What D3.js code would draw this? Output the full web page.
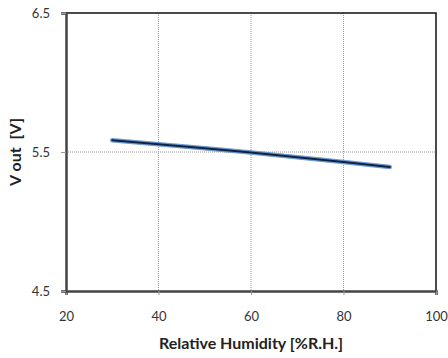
<!DOCTYPE html>
<html>
<head>
<meta charset="utf-8">
<script src="https://cdn.jsdelivr.net/npm/d3@7"></script>
<style>
  body { margin: 0; background: #fff; }
  text { font-family: Lato, "DejaVu Sans", sans-serif; }
</style>
</head>
<body>
<div id="chart"></div>
<script>
// data
var humidity = [30, 40, 50, 60, 70, 80, 90]
var vout = [5.585, 5.556, 5.527, 5.497, 5.463, 5.428, 5.392]
var xTicks = [20, 40, 60, 80, 100]
var yTicks = [4.5, 5.5, 6.5]

var W = 448, H = 358
var pl = 66, pr = 436, pt = 13, pb = 291

var svg = d3.select('#chart')
    .append('svg')
    .attr('width', W)
    .attr('height', H)

var x = d3.scaleLinear().domain([20, 100]).range([pl, pr])
var y = d3.scaleLinear().domain([4.5, 6.5]).range([pb, pt])

// gridlines (dotted)
svg.append('g')
    .selectAll('line')
    .data(xTicks.slice(1, -1))
    .enter()
    .append('line')
    .attr('x1', d => x(d)).attr('x2', d => x(d))
    .attr('y1', pt).attr('y2', pb)
    .attr('stroke', '#9a9a9a')
    .attr('stroke-width', 1)
    .attr('stroke-dasharray', '1,1')

svg.append('g')
    .selectAll('line')
    .data(yTicks.slice(1, -1))
    .enter()
    .append('line')
    .attr('x1', pl).attr('x2', pr)
    .attr('y1', d => y(d)).attr('y2', d => y(d))
    .attr('stroke', '#9a9a9a')
    .attr('stroke-width', 1)
    .attr('stroke-dasharray', '1,1')

// plot border: top + right
svg.append('path')
    .attr('d', `M${pl},${pt}H${pr}V${pb}`)
    .attr('fill', 'none')
    .attr('stroke', '#111')
    .attr('stroke-width', 1.5)

// axes
var xaxis = d3.axisBottom(x).tickValues(xTicks).tickSize(4).tickPadding(17)
var gx = svg.append('g')
    .attr('transform', `translate(0, ${pb})`)
    .call(xaxis)
gx.select('.domain').attr('stroke', '#444').attr('stroke-width', 2.5)
gx.selectAll('.tick line').attr('stroke', '#999')
gx.selectAll('.tick text')
    .attr('fill', '#333')
    .style('font-size', '13px')

var yaxis = d3.axisLeft(y).tickValues(yTicks).tickSize(5).tickPadding(11)
    .tickFormat(d3.format('.1f'))
var gy = svg.append('g')
    .attr('transform', `translate(${pl}, 0)`)
    .call(yaxis)
gy.select('.domain').attr('stroke', '#444').attr('stroke-width', 2.5)
gy.selectAll('.tick line').attr('stroke', '#999')
gy.selectAll('.tick text')
    .attr('fill', '#333')
    .style('font-size', '13px')

// the series: blue glow under a dark line
var line = d3.line()
    .x((d, i) => x(humidity[i]))
    .y(d => y(d))

svg.append('path')
    .datum(vout)
    .attr('d', line)
    .attr('fill', 'none')
    .attr('stroke', '#5b8fd0')
    .attr('stroke-width', 4.5)
    .attr('stroke-linecap', 'round')
    .attr('opacity', 0.9)

svg.append('path')
    .datum(vout)
    .attr('d', line)
    .attr('fill', 'none')
    .attr('stroke', '#13233f')
    .attr('stroke-width', 2)
    .attr('stroke-linecap', 'round')

// axis titles
svg.append('text')
    .text('Relative Humidity [%R.H.]')
    .attr('text-anchor', 'middle')
    .attr('x', (pl + pr) / 2)
    .attr('y', 349)
    .attr('fill', '#222')
    .style('font-weight', 'bold')
    .style('font-size', '16px')

svg.append('text')
    .text('V out  [V]')
    .attr('text-anchor', 'middle')
    .attr('transform', `translate(21, ${(pt + pb) / 2}) rotate(-90)`)
    .attr('fill', '#222')
    .style('font-weight', 'bold')
    .style('font-size', '16px')
    .style('white-space', 'pre')
</script>
</body>
</html>
